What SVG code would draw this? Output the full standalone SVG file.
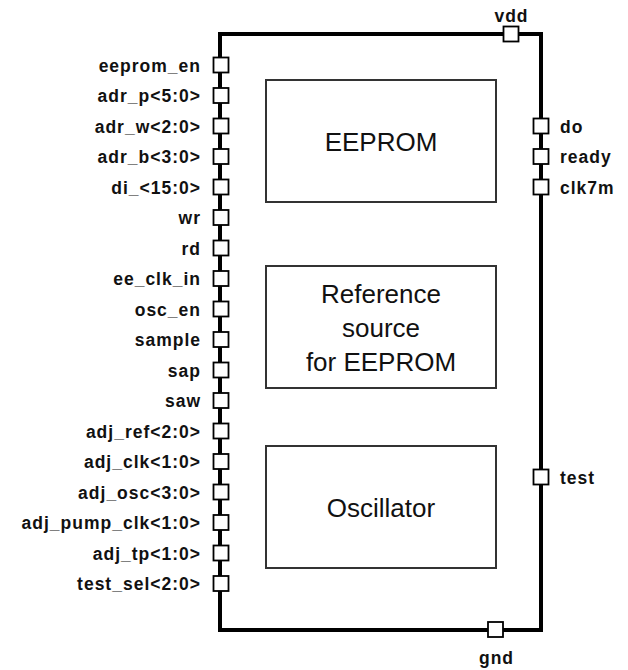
<svg xmlns="http://www.w3.org/2000/svg" width="628" height="670" viewBox="0 0 628 670">
<style>
.bg{fill:#fff}
.wire{fill:none;stroke:#000;stroke-width:4}
.blk{fill:#fff;stroke:#333;stroke-width:2}
.pin{fill:#fff;stroke:#000;stroke-width:1.8}
.lbl{font-family:"Liberation Sans",Arial,sans-serif;font-weight:bold;font-size:17.5px;letter-spacing:1px;fill:#111}
.l{text-anchor:end}
.c{text-anchor:middle}
.big{font-family:"Liberation Sans",Arial,sans-serif;font-size:26px;fill:#111;text-anchor:middle}
</style>
<rect class="bg" x="0" y="0" width="628" height="670"/>
<g id="connectors">
<rect class="wire" x="220" y="34" width="321" height="596"/>
</g>
<g id="eeprom"><rect class="blk" x="266" y="80" width="230" height="122"/><text class="big" x="381" y="151">EEPROM</text></g>
<g id="reference"><rect class="blk" x="266" y="266" width="230" height="122"/><text class="big" x="381" y="303">Reference</text><text class="big" x="381" y="337">source</text><text class="big" x="381" y="371">for EEPROM</text></g>
<g id="oscillator"><rect class="blk" x="266" y="446" width="230" height="122"/><text class="big" x="381" y="517">Oscillator</text></g>
<g id="pins-left">
<g id="p_eeprom_en"><rect class="pin" x="213.5" y="57.5" width="15" height="15"/><text class="lbl l" x="201" y="71.5">eeprom_en</text></g>
<g id="p_adr_p"><rect class="pin" x="213.5" y="88" width="15" height="15"/><text class="lbl l" x="201" y="102">adr_p&lt;5:0&gt;</text></g>
<g id="p_adr_w"><rect class="pin" x="213.5" y="118.5" width="15" height="15"/><text class="lbl l" x="201" y="132.5">adr_w&lt;2:0&gt;</text></g>
<g id="p_adr_b"><rect class="pin" x="213.5" y="149" width="15" height="15"/><text class="lbl l" x="201" y="163">adr_b&lt;3:0&gt;</text></g>
<g id="p_di"><rect class="pin" x="213.5" y="179.5" width="15" height="15"/><text class="lbl l" x="201" y="193.5">di_&lt;15:0&gt;</text></g>
<g id="p_wr"><rect class="pin" x="213.5" y="210" width="15" height="15"/><text class="lbl l" x="201" y="224">wr</text></g>
<g id="p_rd"><rect class="pin" x="213.5" y="240.5" width="15" height="15"/><text class="lbl l" x="201" y="254.5">rd</text></g>
<g id="p_ee_clk_in"><rect class="pin" x="213.5" y="271" width="15" height="15"/><text class="lbl l" x="201" y="285">ee_clk_in</text></g>
<g id="p_osc_en"><rect class="pin" x="213.5" y="301.5" width="15" height="15"/><text class="lbl l" x="201" y="315.5">osc_en</text></g>
<g id="p_sample"><rect class="pin" x="213.5" y="332" width="15" height="15"/><text class="lbl l" x="201" y="346">sample</text></g>
<g id="p_sap"><rect class="pin" x="213.5" y="362.5" width="15" height="15"/><text class="lbl l" x="201" y="376.5">sap</text></g>
<g id="p_saw"><rect class="pin" x="213.5" y="393" width="15" height="15"/><text class="lbl l" x="201" y="407">saw</text></g>
<g id="p_adj_ref"><rect class="pin" x="213.5" y="423.5" width="15" height="15"/><text class="lbl l" x="201" y="437.5">adj_ref&lt;2:0&gt;</text></g>
<g id="p_adj_clk"><rect class="pin" x="213.5" y="454" width="15" height="15"/><text class="lbl l" x="201" y="468">adj_clk&lt;1:0&gt;</text></g>
<g id="p_adj_osc"><rect class="pin" x="213.5" y="484.5" width="15" height="15"/><text class="lbl l" x="201" y="498.5">adj_osc&lt;3:0&gt;</text></g>
<g id="p_adj_pump_clk"><rect class="pin" x="213.5" y="515" width="15" height="15"/><text class="lbl l" x="201" y="529">adj_pump_clk&lt;1:0&gt;</text></g>
<g id="p_adj_tp"><rect class="pin" x="213.5" y="545.5" width="15" height="15"/><text class="lbl l" x="201" y="559.5">adj_tp&lt;1:0&gt;</text></g>
<g id="p_test_sel"><rect class="pin" x="213.5" y="576" width="15" height="15"/><text class="lbl l" x="201" y="590">test_sel&lt;2:0&gt;</text></g>
</g>
<g id="pins-right">
<g id="p_do"><rect class="pin" x="533.5" y="118.5" width="15" height="15"/><text class="lbl" x="560" y="132.5">do</text></g>
<g id="p_ready"><rect class="pin" x="533.5" y="149" width="15" height="15"/><text class="lbl" x="560" y="163">ready</text></g>
<g id="p_clk7m"><rect class="pin" x="533.5" y="179.5" width="15" height="15"/><text class="lbl" x="560" y="193.5">clk7m</text></g>
<g id="p_test"><rect class="pin" x="533.5" y="469.5" width="15" height="15"/><text class="lbl" x="560" y="483.5">test</text></g>
</g>
<g id="p_vdd"><rect class="pin" x="503.5" y="26.5" width="15" height="15"/><text class="lbl c" x="511.5" y="22">vdd</text></g>
<g id="p_gnd"><rect class="pin" x="488" y="622" width="15" height="15"/><text class="lbl c" x="496.5" y="664">gnd</text></g>
</svg>
